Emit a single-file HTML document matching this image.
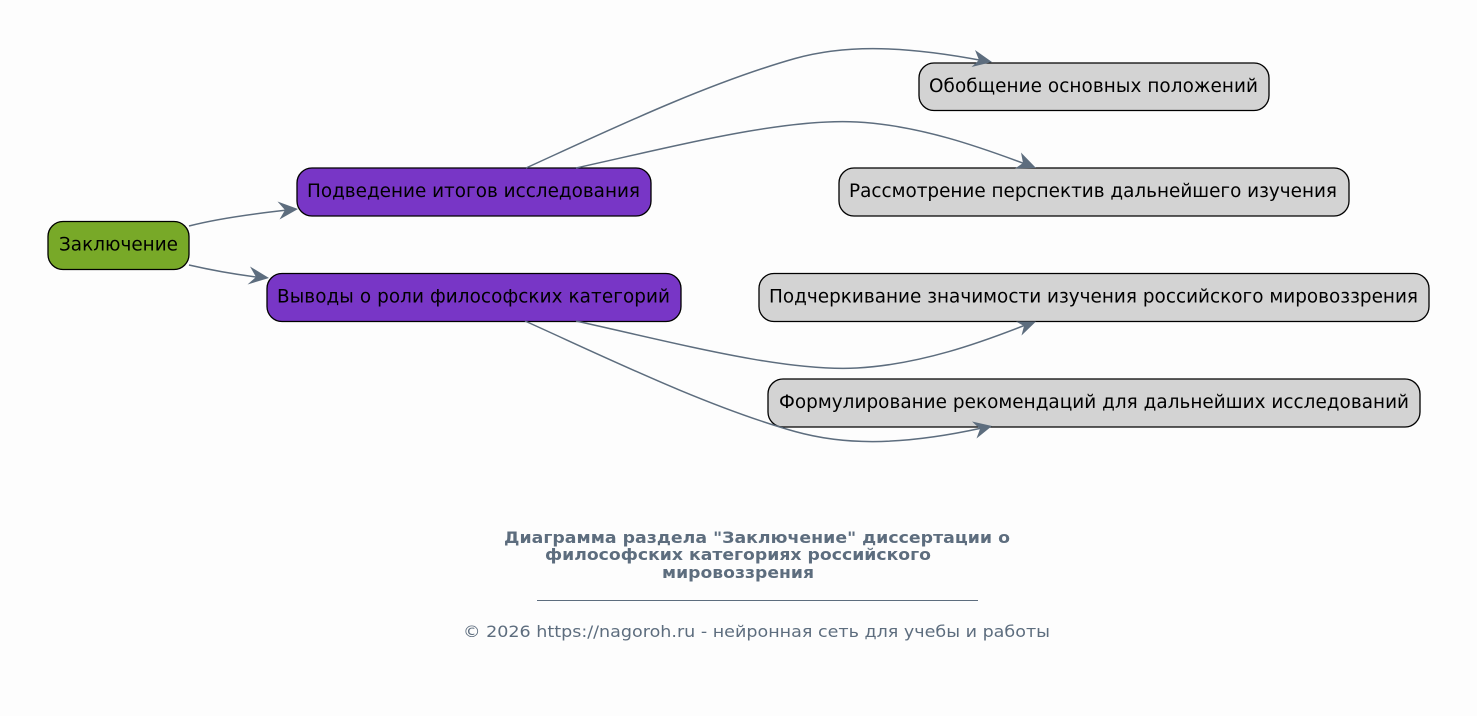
<!DOCTYPE html>
<html><head><meta charset="utf-8"><style>
html,body{margin:0;padding:0;background:#fdfdfd;width:1477px;height:716px;overflow:hidden}
svg{display:block}
text{font-family:"DejaVu Sans",sans-serif}
.n{font-size:18.4px;fill:#000}
.b{stroke:#000;stroke-width:1.3}
.e{fill:none;stroke:#5d6d7e;stroke-width:1.5}
.a{fill:#5d6d7e;stroke:none}
.t{font-size:16px;font-weight:bold;fill:#5d6d7e}
.f{font-size:16px;fill:#5d6d7e}
</style></head><body>
<svg width="1477" height="716" viewBox="0 0 1477 716" xmlns="http://www.w3.org/2000/svg">
<rect width="1477" height="716" fill="#fdfdfd"/>
<rect class="b" x="48" y="221.5" width="141" height="48" rx="15" fill="#78a928"/>
<text class="n" x="59" y="250.500" textLength="119">Заключение</text>
<rect class="b" x="297" y="168" width="354" height="48" rx="15" fill="#7836c6"/>
<text class="n" x="307" y="197" textLength="333">Подведение итогов исследования</text>
<rect class="b" x="267" y="273.500" width="414" height="48" rx="15" fill="#7836c6"/>
<text class="n" x="277" y="302.500" textLength="393">Выводы о роли философских категорий</text>
<rect class="b" x="919" y="63" width="350" height="47.500" rx="15" fill="#d3d3d3"/>
<text class="n" x="929" y="92" textLength="329">Обобщение основных положений</text>
<rect class="b" x="839" y="168" width="510" height="48" rx="15" fill="#d3d3d3"/>
<text class="n" x="849" y="197" textLength="488">Рассмотрение перспектив дальнейшего изучения</text>
<rect class="b" x="759" y="273.500" width="670" height="48" rx="15" fill="#d3d3d3"/>
<text class="n" x="769" y="302.500" textLength="649">Подчеркивание значимости изучения российского мировоззрения</text>
<rect class="b" x="768" y="379" width="652" height="48" rx="15" fill="#d3d3d3"/>
<text class="n" x="779" y="408" textLength="630">Формулирование рекомендаций для дальнейших исследований</text>
<path class="e" d="M189,226 C220,218 260,213 290,209.800"/>
<polygon class="a" points="298,209 277.500,201.500 285,210 279.500,219.500"/>
<path class="e" d="M189,265 C215,271 240,275 260,277.500"/>
<polygon class="a" points="269,278 250,266.500 256,277 247.500,284.500"/>
<path class="e" d="M526,168 C605,132 705,84 795,58.500 C840,46 895,44 982,60.500"/>
<polygon class="a" points="992,62 975,50 979,60 971.500,67"/>
<path class="e" d="M576,168 C680,145 785,118 857,122 C920,125.500 980,147 1028,165"/>
<polygon class="a" points="1036,168 1021,152.500 1023,163 1015,168.500"/>
<path class="e" d="M576,321 C680,344 785,372 857,368 C920,364.500 980,343 1028,324"/>
<polygon class="a" points="1036,321.500 1016,321.500 1024,326 1021.500,335.500"/>
<path class="e" d="M525,321 C605,357 705,406 795,431.500 C840,444 895,447 982,428"/>
<polygon class="a" points="992,426 972,421.500 980,429 976.500,438.500"/>
<text class="t" x="504" y="543" textLength="506" lengthAdjust="spacingAndGlyphs">Диаграмма раздела "Заключение" диссертации о</text>
<text class="t" x="545" y="560" textLength="386" lengthAdjust="spacingAndGlyphs">философских категориях российского</text>
<text class="t" x="662" y="578" textLength="152" lengthAdjust="spacingAndGlyphs">мировоззрения</text>
<line x1="537" y1="600.500" x2="978" y2="600.500" stroke="#5d6d7e" stroke-width="1"/>
<text class="f" x="463" y="637" textLength="587" lengthAdjust="spacingAndGlyphs">© 2026 https://nagoroh.ru - нейронная сеть для учебы и работы</text>
</svg>
</body></html>
